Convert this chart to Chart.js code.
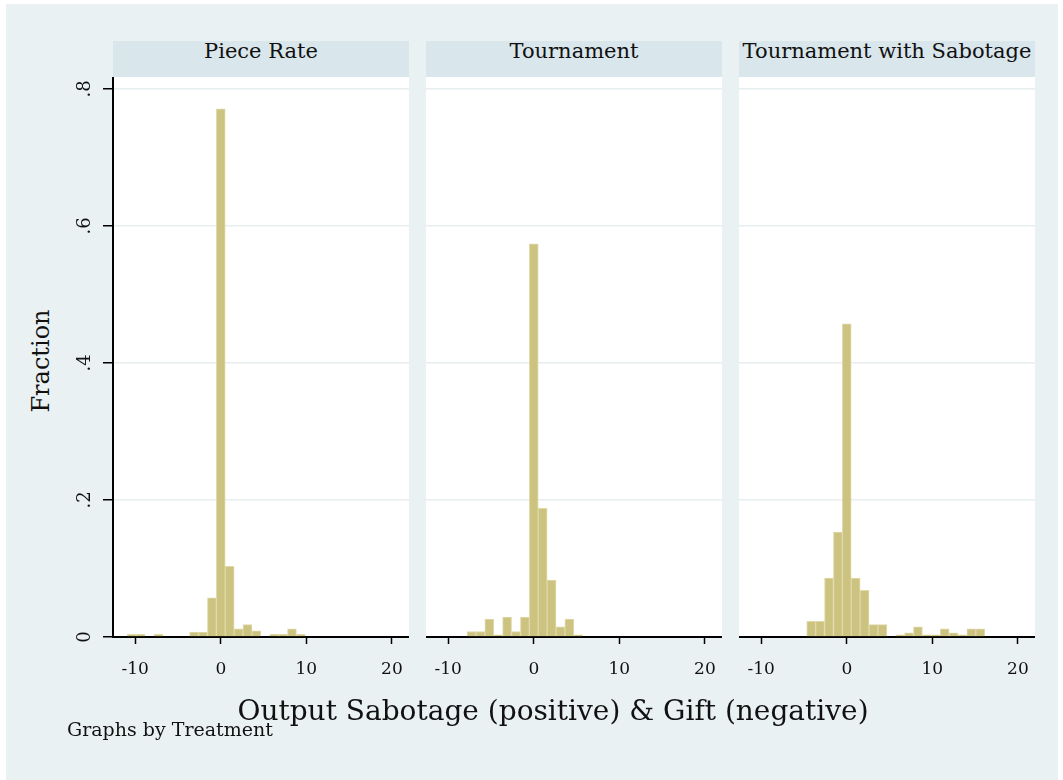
<!DOCTYPE html>
<html>
<head>
<meta charset="utf-8">
<script src="https://cdn.jsdelivr.net/npm/chart.js@4"></script>
<style>
  body { margin: 0; background: #ffffff; font-family: "DejaVu Serif", serif; color: #111; }
  #page { position: relative; width: 1063px; height: 780px; overflow: hidden; }
  #bg { position: absolute; left: 6px; top: 4px; width: 1052px; height: 776px; background: #eaf1f3; }
  .head { position: absolute; top: 41px; width: 296px; height: 36px; background: #d9e6eb;
          font-size: 21px; line-height: 21px; text-align: center; white-space: nowrap; }
  .panel { position: absolute; top: 77px; height: 623px; }
  #xtitle { position: absolute; left: 553px; top: 697px; transform: translateX(-50%);
            font-size: 28px; line-height: 28px; white-space: nowrap; }
  #note { position: absolute; left: 67px; top: 720px; font-size: 19px; line-height: 19px; white-space: nowrap; }
  #ytitle { position: absolute; left: 40.7px; top: 361px; transform: translate(-50%, -50%) rotate(-90deg);
            font-size: 24px; line-height: 24px; white-space: nowrap; }
</style>
</head>
<body>
<div id="page">
  <div id="bg"></div>
  <div class="head" style="left:113px">Piece Rate</div>
  <div class="head" style="left:426px">Tournament</div>
  <div class="head" style="left:739px">Tournament with Sabotage</div>
  <div class="panel" style="left:60px;width:349px"><canvas id="c1" width="349" height="623"></canvas></div>
  <div class="panel" style="left:426px;width:296px"><canvas id="c2" width="296" height="623"></canvas></div>
  <div class="panel" style="left:739px;width:296px"><canvas id="c3" width="296" height="623"></canvas></div>
  <div id="ytitle">Fraction</div>
  <div id="xtitle">Output Sabotage (positive) &amp; Gift (negative)</div>
  <div id="note">Graphs by Treatment</div>
</div>
<script>
// ================= DATA =================
const binCenters = [-10.4, -9.36, -8.32, -7.28, -6.24, -5.2, -4.16, -3.12, -2.08, -1.04,
  0, 1.04, 2.08, 3.12, 4.16, 5.2, 6.24, 7.28, 8.32, 9.36, 10.4, 11.44, 12.48, 13.52, 14.56, 15.6];

const pieceRate = [0.004, 0.004, 0, 0.004, 0, 0, 0, 0.007, 0.007, 0.057,
  0.771, 0.103, 0.012, 0.018, 0.009, 0, 0.004, 0.004, 0.012, 0.004, 0, 0, 0, 0, 0, 0];

const tournament = [0, 0, 0, 0.008, 0.008, 0.026, 0.003, 0.029, 0.008, 0.029,
  0.574, 0.188, 0.083, 0.015, 0.026, 0.003, 0, 0, 0, 0, 0, 0, 0, 0, 0, 0];

const tournamentSabotage = [0, 0, 0, 0, 0, 0, 0.023, 0.023, 0.086, 0.153,
  0.457, 0.086, 0.068, 0.018, 0.018, 0, 0.003, 0.006, 0.015, 0.003, 0.003, 0.012, 0.006, 0.003, 0.012, 0.012];

const xTickValues = [-10, 0, 10, 20];
const xTickLabels = ["-10", "0", "10", "20"];
const yTickValues = [0, 0.2, 0.4, 0.6, 0.8];
const yTickLabels = ["0", ".2", ".4", ".6", ".8"];

// ================= STYLE =================
const barFill = "#cdc381";
const barLine = "#e0d9a8";
const gridColor = "#e6eef0";

// white plot region behind the bars
const plotBg = {
  id: "plotBg",
  beforeDraw(chart) {
    const a = chart.chartArea;
    const ctx = chart.ctx;
    ctx.save();
    ctx.fillStyle = "#ffffff";
    ctx.fillRect(a.left, a.top, a.right - a.left, a.bottom - a.top);
    ctx.restore();
  }
};

// rotated y tick labels (Stata style)
const yLabels = {
  id: "yLabels",
  afterDraw(chart) {
    if (!chart.options.plugins.yLabels.show) return;
    const y = chart.scales.y;
    const ctx = chart.ctx;
    ctx.save();
    ctx.fillStyle = "#111";
    ctx.font = "18px 'DejaVu Serif'";
    ctx.textAlign = "center";
    ctx.textBaseline = "alphabetic";
    yTickValues.forEach((v, i) => {
      ctx.save();
      ctx.translate(y.left + 30, y.getPixelForValue(v));
      ctx.rotate(-Math.PI / 2);
      ctx.fillText(yTickLabels[i], 0, 0);
      ctx.restore();
    });
    ctx.restore();
  }
};

function makePanel(id, values, first) {
  return new Chart(document.getElementById(id), {
    type: "bar",
    data: {
      datasets: [{
        data: binCenters.map((c, i) => ({ x: c, y: values[i] })),
        backgroundColor: barFill,
        borderColor: barLine,
        borderWidth: 1,
        barPercentage: 1,
        categoryPercentage: 1
      }]
    },
    options: {
      responsive: false,
      animation: false,
      layout: { padding: 0 },
      plugins: {
        legend: { display: false },
        tooltip: { enabled: false },
        yLabels: { show: first }
      },
      scales: {
        x: {
          type: "linear",
          min: -12.6,
          max: 22.0,
          offset: false,
          afterBuildTicks: s => { s.ticks = xTickValues.map(v => ({ value: v })); },
          afterFit: s => { s.height = 63; s.paddingLeft = 0; s.paddingRight = 0; },
          ticks: {
            color: "#111",
            font: { family: "DejaVu Serif", size: 17 },
            padding: 15,
            maxRotation: 0,
            callback: (v) => xTickLabels[xTickValues.indexOf(v)]
          },
          grid: { offset: false, drawOnChartArea: false, drawTicks: true, tickLength: 7, tickColor: "#000", tickWidth: 1.5 },
          border: { display: true, color: "#000", width: 2 }
        },
        y: {
          min: 0,
          max: 0.8175,
          afterBuildTicks: s => { s.ticks = yTickValues.map(v => ({ value: v })); },
          afterFit: s => { s.width = first ? 53 : 0; s.paddingTop = 0; s.paddingBottom = 0; },
          ticks: { display: false },
          grid: {
            color: gridColor,
            lineWidth: 1.5,
            drawTicks: first,
            tickLength: 10,
            tickColor: "#000",
            tickWidth: 1.5
          },
          border: { display: first, color: "#000", width: 2 }
        }
      }
    },
    plugins: [plotBg, yLabels]
  });
}

// ================= INIT =================
makePanel("c1", pieceRate, true);
makePanel("c2", tournament, false);
makePanel("c3", tournamentSabotage, false);
</script>
</body>
</html>
